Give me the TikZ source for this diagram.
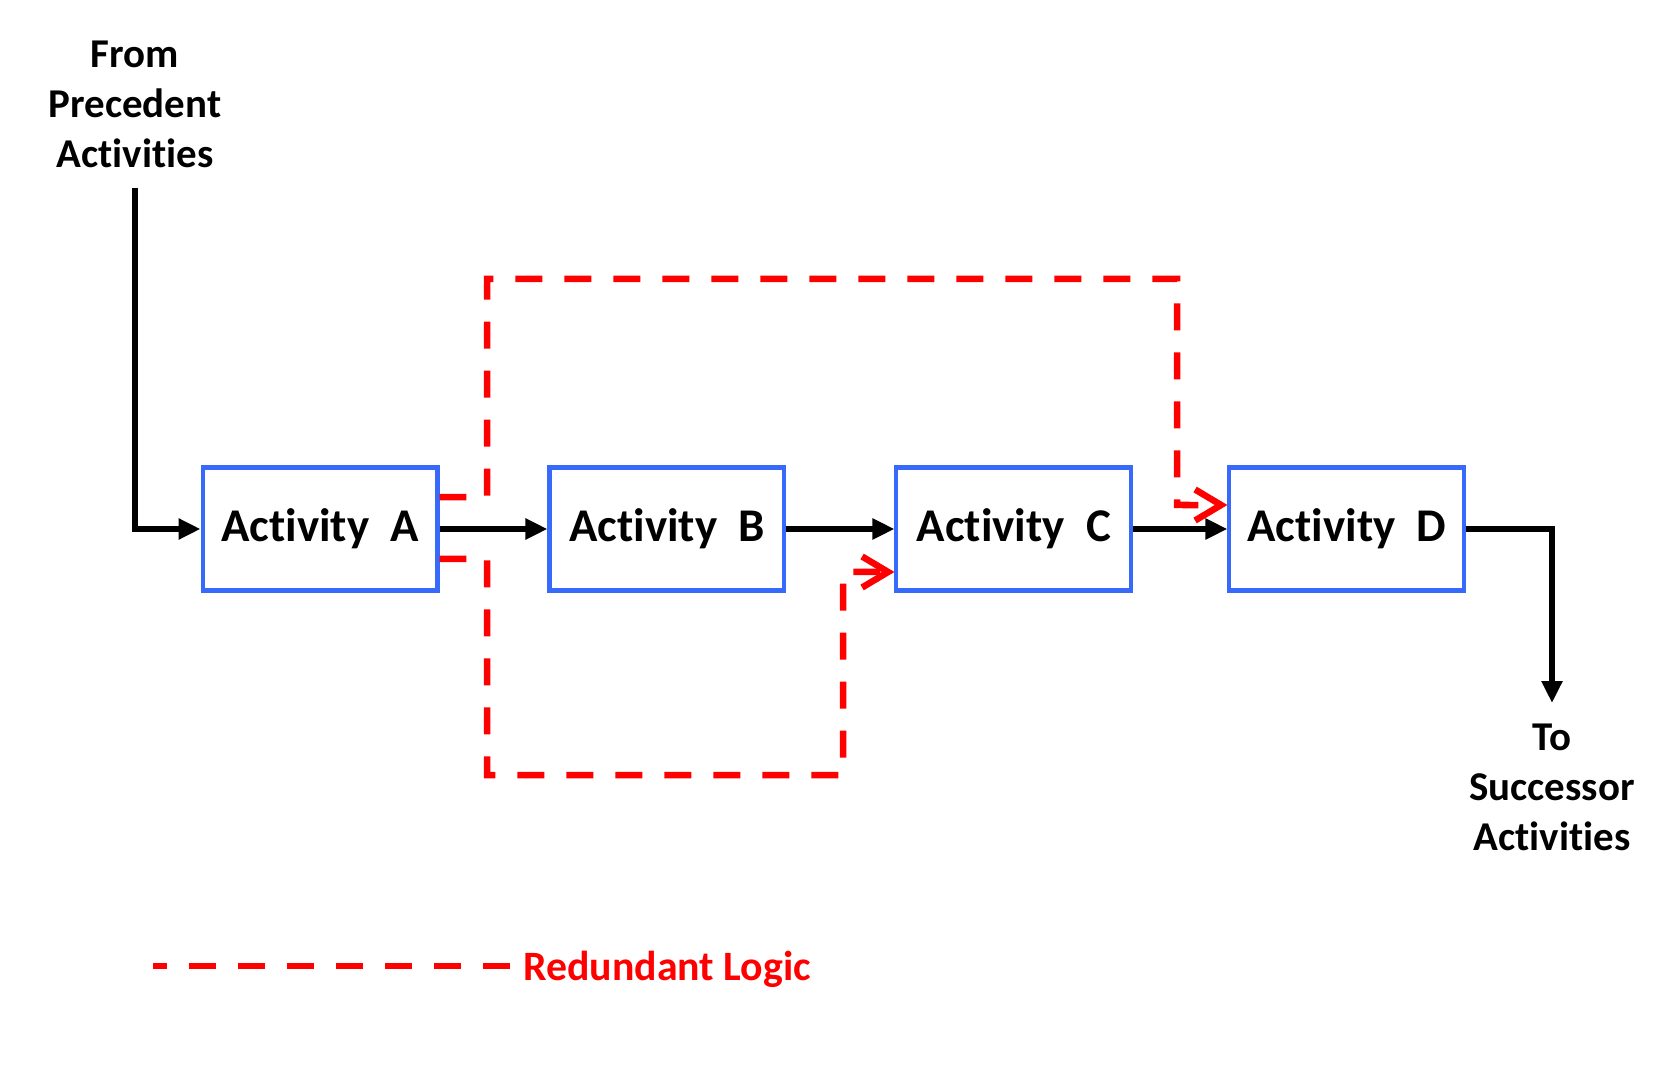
\documentclass[tikz,border=0pt]{standalone}
\usepackage{fontspec}
\setmainfont{Carlito}[Ligatures=NoCommon]
\usetikzlibrary{positioning,arrows.meta}
\definecolor{boxblue}{RGB}{55,105,250}
\definecolor{logicred}{RGB}{255,0,0}

\begin{document}
\begin{tikzpicture}[x=0.02cm, y=-0.02cm, node distance=2.16cm]
	\tikzstyle{activity} = [rectangle, draw=boxblue, line width=2.3pt, minimum width=4.7cm, minimum height=2.46cm, font=\fontsize{26.7}{32}\selectfont\bfseries]
	\tikzstyle{endtext} = [align=center, font=\fontsize{23.3}{28.5}\selectfont\bfseries]
	\tikzstyle{link} = [line width=3.7pt, -{Triangle[length=0.44cm, width=0.4cm]}]
	\tikzstyle{redundant} = [draw=logicred, line width=3.7pt, dash pattern=on 0.54cm off 0.44cm]
	\tikzstyle{redundant link} = [redundant, -{Straight Barb[length=0.52cm, width=0.62cm]}]

	\useasboundingbox (0,0) rectangle (1678,1074);

	% Define activities
	\node[activity] (A) at (320,529) {Activity~~A};
	\node[activity] (B) [right=of A] {Activity~~B};
	\node[activity] (C) [right=of B] {Activity~~C};
	\node[activity] (D) [right=1.88cm of C] {Activity~~D};

	% Texts at both ends
	\node[endtext] (from) at (135,104) {From\\Precedent\\Activities};
	\node[endtext] (to) at (1552,787) {To\\Successor\\Activities};
	\coordinate (fromend) at (135,188);
	\coordinate (toend) at (1552,703);

	% Draw logic links
	\draw[link] (fromend) |- (A.west);
	\draw[link] (A) -- (B);
	\draw[link] (B) -- (C);
	\draw[link] (C) -- (D);
	\draw[link] (D.east) -| (toend);

	% Draw redundant links
	\draw[redundant link] ([yshift=0.64cm]A.east) -| (487,279) -| (1177,505) -- ([yshift=0.48cm]D.west);
	\draw[redundant link] ([yshift=-0.6cm]A.east) -| (487,775) -| (843,572) -- ([yshift=-0.86cm]C.west);

	% Legend
	\node[endtext, text=logicred, anchor=base west, font=\fontsize{23.8}{28.5}\selectfont\bfseries] (legend) at (517,980) {Redundant Logic};
	\coordinate (legstart) at (153,966);
	\draw[redundant, shorten <=0.14cm] (legend.west |- legstart) -- (legstart);

\end{tikzpicture}
\end{document}
